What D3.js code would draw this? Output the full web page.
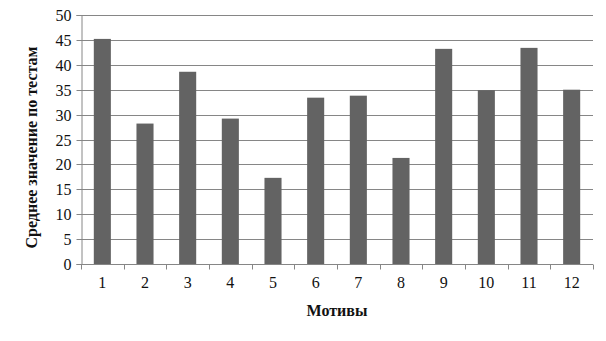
<!DOCTYPE html>
<html><head><meta charset="utf-8">
<script src="https://cdn.jsdelivr.net/npm/d3@7"></script>
<style>body{margin:0;background:#fff}svg{display:block}</style>
</head><body>
<svg id="c" width="606" height="341"></svg>
<script>
const categories = ["1","2","3","4","5","6","7","8","9","10","11","12"];
const values = [45.2, 28.2, 38.6, 29.2, 17.3, 33.4, 33.8, 21.3, 43.2, 34.9, 43.4, 35.0];
const yTicks = [0,5,10,15,20,25,30,35,40,45,50];
const xTitle = "Мотивы";
const yTitle = "Среднее значение по тестам";

const svg = d3.select("#c");
const L = 81, R = 593, T = 15, B = 264;
const font = "'Liberation Serif','Times New Roman',serif";

const x = d3.scaleBand().domain(categories).range([L, R]).paddingInner(0.6).paddingOuter(0.3);
const y = d3.scaleLinear().domain([0, 50]).range([B, T]);

// gridlines
svg.append("g").selectAll("line").data(yTicks.filter(d => d > 0)).join("line")
  .attr("x1", L).attr("x2", R)
  .attr("y1", d => Math.round(y(d)) + 0.5).attr("y2", d => Math.round(y(d)) + 0.5)
  .attr("stroke", "#868686").attr("stroke-width", 1);

// bars
svg.append("g").selectAll("rect").data(values).join("rect")
  .attr("x", (d, i) => x(categories[i]))
  .attr("width", x.bandwidth())
  .attr("y", d => y(d))
  .attr("height", d => B - y(d))
  .attr("fill", "#636363");

// y axis
const yAxis = svg.append("g").attr("transform", `translate(${L + 0.5},0)`)
  .call(d3.axisLeft(y).tickValues(yTicks).tickSize(5).tickPadding(5).tickFormat(d3.format("d")));
yAxis.select(".domain").attr("stroke", "#868686");
yAxis.selectAll(".tick line").attr("stroke", "#868686");
yAxis.selectAll(".tick").attr("transform", d => `translate(0,${Math.round(y(d)) + 0.5})`);
yAxis.selectAll("text").attr("font-family", font).attr("font-size", 16).attr("fill", "#111");

// x axis
const xAxis = svg.append("g").attr("transform", `translate(0,${B + 0.5})`)
  .call(d3.axisBottom(x).tickSize(0).tickPadding(12));
xAxis.select(".domain").attr("d", `M${L},0H${R}`).attr("stroke", "#868686");
xAxis.selectAll("text").attr("font-family", font).attr("font-size", 16).attr("fill", "#111");
// category boundary ticks
const bounds = d3.range(categories.length + 1).map(i => L + i * (R - L) / categories.length);
xAxis.append("g").selectAll("line").data(bounds).join("line")
  .attr("x1", d => Math.round(d) + 0.5).attr("x2", d => Math.round(d) + 0.5)
  .attr("y1", 0).attr("y2", 5).attr("stroke", "#868686");

// titles
svg.append("text").attr("x", (L + R) / 2).attr("y", 316).attr("text-anchor", "middle")
  .attr("font-family", font).attr("font-size", 16).attr("font-weight", "bold").attr("fill", "#111")
  .text(xTitle);
svg.append("text").attr("transform", `translate(37,${(T + B) / 2 + 8}) rotate(-90)`).attr("text-anchor", "middle")
  .attr("font-family", font).attr("font-size", 16).attr("font-weight", "bold").attr("fill", "#111")
  .text(yTitle);
</script>
</body></html>
